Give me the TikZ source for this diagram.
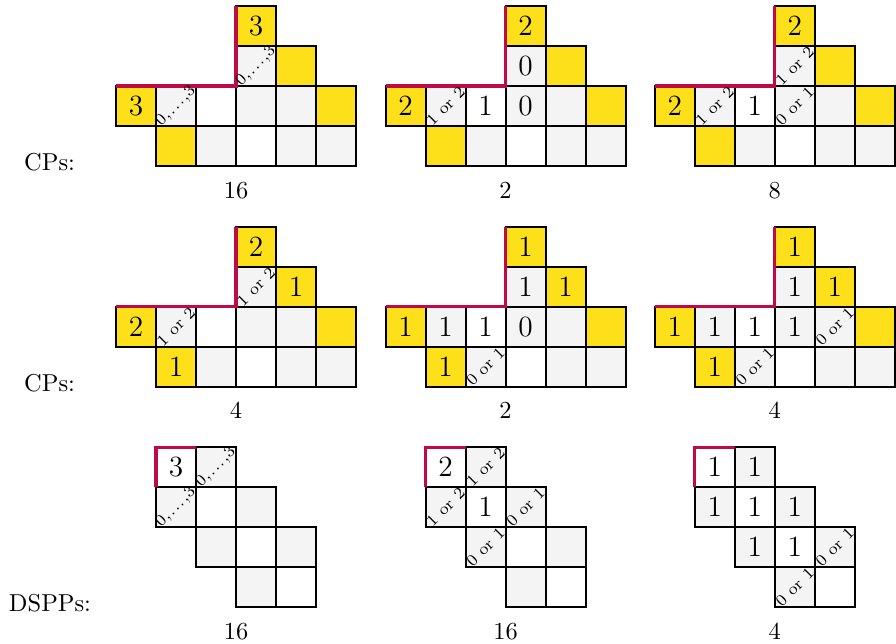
\documentclass[tikz,border=0pt]{standalone}
\definecolor{cpyellow}{RGB}{253,224,26}
\definecolor{cpgray}{RGB}{244,244,244}
\definecolor{cpred}{RGB}{190,10,70}

% one unit square at column #1, row #2
\newcommand{\sq}[3]{\path[#3] (#1,-#2) rectangle ++(1,-1);}
\newcommand{\bignum}[3]{\node[big] (\pn-#1-#2) at (#1+0.5,-#2-0.5) {#3};}
\newcommand{\smallnum}[3]{\node[small] (\pn-#1-#2) at (#1+0.5,-#2-0.5) {#3};}
\newcommand{\range}{0,\kern0.5pt.\kern0.5pt.\kern0.5pt.\kern0.5pt,3}
\newcommand{\cpcells}{%
  \sq{3}{0}{ybox} \sq{3}{1}{gbox} \sq{4}{1}{ybox}
  \sq{0}{2}{ybox} \sq{1}{2}{gbox} \sq{2}{2}{wbox} \sq{3}{2}{gbox} \sq{4}{2}{gbox} \sq{5}{2}{ybox}
  \sq{1}{3}{ybox} \sq{2}{3}{gbox} \sq{3}{3}{wbox} \sq{4}{3}{gbox} \sq{5}{3}{gbox}
  \draw[cut] (0,-2) -- (3,-2) -- (3,0);}
\newcommand{\dsppcells}{%
  \sq{0}{0}{wbox} \sq{1}{0}{gbox}
  \sq{0}{1}{gbox} \sq{1}{1}{wbox} \sq{2}{1}{gbox}
  \sq{1}{2}{gbox} \sq{2}{2}{wbox} \sq{3}{2}{gbox}
  \sq{2}{3}{gbox} \sq{3}{3}{wbox}
  \draw[cut] (0,-1) -- (0,0) -- (1,0);}

\begin{document}
\begin{tikzpicture}[x=0.575cm, y=0.575cm,
    box/.style={draw, line width=0.8pt},
    ybox/.style={box, fill=cpyellow},
    gbox/.style={box, fill=cpgray},
    wbox/.style={box, fill=white},
    cut/.style={draw=cpred, line width=1.3pt},
    big/.style={font=\large, inner sep=0pt},
    small/.style={font=\fontsize{6.6}{8}\selectfont, rotate=45, inner sep=0pt},
    count/.style={anchor=base, inner sep=0pt},
    rowlabel/.style={anchor=base, inner sep=0pt}]
    \useasboundingbox (0,0) rectangle (22.4,-16.075);

    % Row labels
    \node[rowlabel] (cpa) at (1.24,-4.25) {CPs:};
    \node[rowlabel] (cpb) at (1.24,-9.79) {CPs:};
    \node[rowlabel] (dspp) at (1.25,-15.29) {DSPPs:};

    % CPs, first row
    \begin{scope}[shift={(2.9,-0.15)}]\def\pn{a}
        \cpcells
        \bignum{3}{0}{3} \smallnum{3}{1}{\range}
        \bignum{0}{2}{3} \smallnum{1}{2}{\range}
        \node[count] (na) at (3,-4.8) {16};
    \end{scope}
    \begin{scope}[shift={(9.64,-0.15)}]\def\pn{b}
        \cpcells
        \bignum{3}{0}{2} \bignum{3}{1}{0}
        \bignum{0}{2}{2} \smallnum{1}{2}{1 or 2} \bignum{2}{2}{1} \bignum{3}{2}{0}
        \node[count] (nb) at (3,-4.8) {2};
    \end{scope}
    \begin{scope}[shift={(16.37,-0.15)}]\def\pn{c}
        \cpcells
        \bignum{3}{0}{2} \smallnum{3}{1}{1 or 2}
        \bignum{0}{2}{2} \smallnum{1}{2}{1 or 2} \bignum{2}{2}{1} \smallnum{3}{2}{0 or 1}
        \node[count] (nc) at (3,-4.8) {8};
    \end{scope}

    % CPs, second row
    \begin{scope}[shift={(2.9,-5.665)}]\def\pn{d}
        \cpcells
        \bignum{3}{0}{2} \smallnum{3}{1}{1 or 2} \bignum{4}{1}{1}
        \bignum{0}{2}{2} \smallnum{1}{2}{1 or 2}
        \bignum{1}{3}{1}
        \node[count] (nd) at (3,-4.8) {4};
    \end{scope}
    \begin{scope}[shift={(9.64,-5.665)}]\def\pn{e}
        \cpcells
        \bignum{3}{0}{1} \bignum{3}{1}{1} \bignum{4}{1}{1}
        \bignum{0}{2}{1} \bignum{1}{2}{1} \bignum{2}{2}{1} \bignum{3}{2}{0}
        \bignum{1}{3}{1} \smallnum{2}{3}{0 or 1}
        \node[count] (ne) at (3,-4.8) {2};
    \end{scope}
    \begin{scope}[shift={(16.37,-5.665)}]\def\pn{f}
        \cpcells
        \bignum{3}{0}{1} \bignum{3}{1}{1} \bignum{4}{1}{1}
        \bignum{0}{2}{1} \bignum{1}{2}{1} \bignum{2}{2}{1} \bignum{3}{2}{1} \smallnum{4}{2}{0 or 1}
        \bignum{1}{3}{1} \smallnum{2}{3}{0 or 1}
        \node[count] (nf) at (3,-4.8) {4};
    \end{scope}

    % DSPPs
    \begin{scope}[shift={(3.9,-11.18)}]\def\pn{g}
        \dsppcells
        \bignum{0}{0}{3} \smallnum{1}{0}{\range}
        \smallnum{0}{1}{\range}
        \node[count] (ng) at (2,-4.8) {16};
    \end{scope}
    \begin{scope}[shift={(10.64,-11.18)}]\def\pn{h}
        \dsppcells
        \bignum{0}{0}{2} \smallnum{1}{0}{1 or 2}
        \smallnum{0}{1}{1 or 2} \bignum{1}{1}{1} \smallnum{2}{1}{0 or 1}
        \smallnum{1}{2}{0 or 1}
        \node[count] (nh) at (2,-4.8) {16};
    \end{scope}
    \begin{scope}[shift={(17.37,-11.18)}]\def\pn{i}
        \dsppcells
        \bignum{0}{0}{1} \bignum{1}{0}{1}
        \bignum{0}{1}{1} \bignum{1}{1}{1} \bignum{2}{1}{1}
        \bignum{1}{2}{1} \bignum{2}{2}{1} \smallnum{3}{2}{0 or 1}
        \smallnum{2}{3}{0 or 1}
        \node[count] (ni) at (2,-4.8) {4};
    \end{scope}
\end{tikzpicture}
\end{document}
